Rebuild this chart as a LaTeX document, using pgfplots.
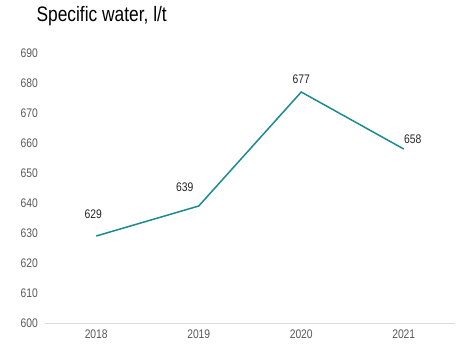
\documentclass[border=0pt]{standalone}
\usepackage{pgfplots}
\pgfplotsset{compat=1.18}
\usepackage{fontspec}
\setmainfont[FakeStretch=0.83]{Liberation Sans}
\definecolor{teal1}{HTML}{1B8A91}
\definecolor{tickgray}{HTML}{595959}
\definecolor{axgray}{HTML}{D9D9D9}
\begin{document}
\begin{tikzpicture}[x=1bp,y=1bp]
\path[use as bounding box] (-45bp,-39bp) rectangle (412bp,323bp);
\begin{axis}[
  at={(0,0)}, anchor=south west,
  scale only axis,
  width=410bp, height=270bp,
  xmin=-0.5, xmax=3.5,
  ymin=600, ymax=690,
  xtick={0,1,2,3},
  xticklabels={2018,2019,2020,2021},
  ytick={600,610,...,690},
  axis x line*=bottom,
  axis y line=none,
  x axis line style={axgray, line width=0.8pt, -},
  major tick length=0pt,
  tick style={draw=none},
  /pgf/number format/assume math mode=true,
  /pgf/number format/1000 sep={},
  x tick label style={font=\fontsize{12.5}{14}\selectfont, text=tickgray, yshift=-3bp},
  clip=false,
]
\addplot[teal1, line width=1.5pt, mark=none] coordinates {(0,629) (1,639) (2,677) (3,658)};
\pgfplotsinvokeforeach{600,610,...,690}{
  \node[anchor=west, font=\fontsize{12.5}{14}\selectfont, text=tickgray] at (axis cs:-0.5,#1) [xshift=-28bp] {#1};
}
\node[anchor=base, font=\fontsize{12.5}{14}\selectfont, text=black!85] at (axis cs:0,629) [xshift=-3bp, yshift=18bp] {629};
\node[anchor=base, font=\fontsize{12.5}{14}\selectfont, text=black!85] at (axis cs:1,639) [xshift=-14bp, yshift=15bp] {639};
\node[anchor=base, font=\fontsize{12.5}{14}\selectfont, text=black!85] at (axis cs:2,677) [xshift=0bp, yshift=9bp] {677};
\node[anchor=base, font=\fontsize{12.5}{14}\selectfont, text=black!85] at (axis cs:3,658) [xshift=9bp, yshift=6bp] {658};
\end{axis}
\node[anchor=base west, font=\fontsize{21}{24}\selectfont] at (-12bp,301bp) {Specific water, l/t};
\end{tikzpicture}
\end{document}
